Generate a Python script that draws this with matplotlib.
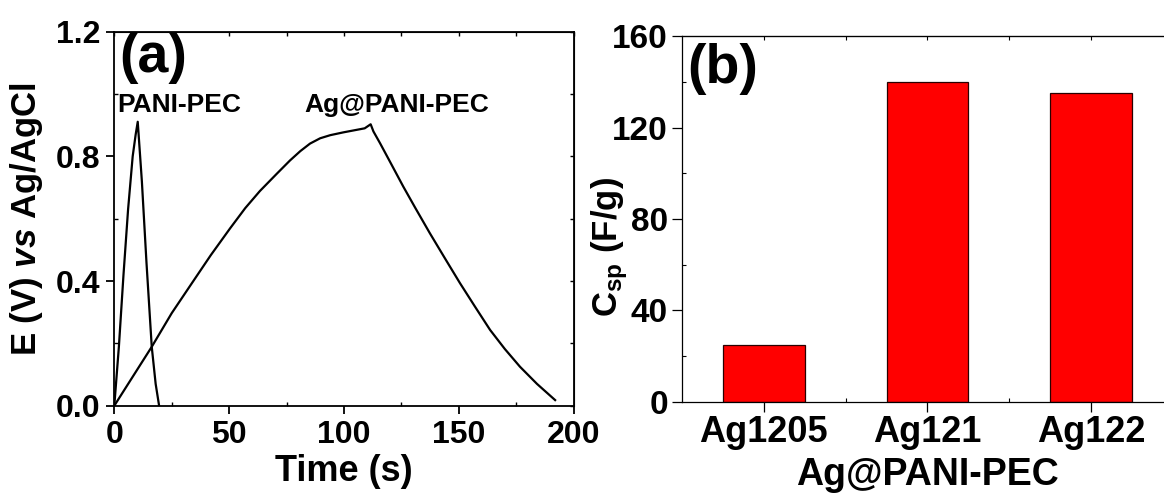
import numpy as np
import matplotlib
matplotlib.use('Agg')
import matplotlib.pyplot as plt
from matplotlib.ticker import MultipleLocator, FixedLocator

plt.rcParams['font.family'] = ['Liberation Sans', 'DejaVu Sans']
plt.rcParams['font.weight'] = 'bold'
plt.rcParams['axes.labelweight'] = 'bold'
plt.rcParams['mathtext.fontset'] = 'custom'
plt.rcParams['mathtext.rm'] = 'Liberation Sans:bold'
plt.rcParams['mathtext.bf'] = 'Liberation Sans:bold'
plt.rcParams['mathtext.it'] = 'Liberation Sans:bold:italic'

# (a) charge/discharge curves
t_pani = [0, 2, 4, 6, 8, 9.3, 10.2, 12, 14, 16.3, 18, 19.5]
e_pani = [0, 0.19, 0.42, 0.63, 0.80, 0.87, 0.911, 0.72, 0.46, 0.189, 0.07, 0.0]

t_ag = [0, 5, 10, 16.3, 25, 34.4, 42, 50.4, 57, 63.4, 70.7, 76.5, 81, 85.2, 89.6,
        94, 99.7, 104, 109, 111.6, 112.8, 115.7, 120, 125.8, 131, 137.4, 144,
        150.5, 157, 163.6, 170, 176.6, 184, 191.9]
e_ag = [0, 0.058, 0.116, 0.189, 0.297, 0.400, 0.483, 0.569, 0.634, 0.689, 0.744,
        0.787, 0.817, 0.841, 0.858, 0.868, 0.877, 0.883, 0.89, 0.903, 0.88, 0.842,
        0.783, 0.703, 0.635, 0.553, 0.472, 0.393, 0.318, 0.243, 0.182, 0.125,
        0.070, 0.018]

# (b) specific capacitance
samples = ['Ag1205', 'Ag121', 'Ag122']
csp = [25, 140, 135]

fig = plt.figure(figsize=(11.64, 5), dpi=100)

# ---- panel a
ax1 = fig.add_axes([0.0982, 0.1886, 0.3947, 0.748])
ax1.plot(t_pani, e_pani, color='k', lw=1.6, solid_joinstyle='round')
ax1.plot(t_ag, e_ag, color='k', lw=1.6, solid_joinstyle='round')
ax1.set_xlim(0, 200)
ax1.set_ylim(0, 1.2)
ax1.xaxis.set_major_locator(MultipleLocator(50))
ax1.xaxis.set_minor_locator(MultipleLocator(25))
ax1.yaxis.set_major_locator(FixedLocator([0, 0.4, 0.8, 1.2]))
ax1.yaxis.set_minor_locator(MultipleLocator(0.2))
ax1.yaxis.set_major_formatter(plt.FuncFormatter(lambda v, p: '%.1f' % v))
ax1.tick_params(which='major', direction='out', length=6, width=1.3, labelsize=23, pad=4)
ax1.tick_params(which='minor', direction='in', length=3, width=1.0)
for s in ax1.spines.values():
    s.set_linewidth(1.3)
ax1.set_xlabel('Time (s)', fontsize=26, labelpad=3)
ax1.set_ylabel(r'E (V) $\mathit{vs}$ Ag/AgCl', fontsize=25, labelpad=8)

top1 = ax1.secondary_xaxis('top')
top1.xaxis.set_major_locator(MultipleLocator(25))
top1.tick_params(direction='in', length=3, width=1.0, labeltop=False)
right1 = ax1.secondary_yaxis('right')
right1.yaxis.set_major_locator(MultipleLocator(0.2))
right1.tick_params(direction='in', length=3, width=1.0, labelright=False)

ax1.text(2.0, 1.2, '(a)', fontsize=40, fontweight='bold', va='top', ha='left')
ax1.text(28.2, 0.943, 'PANI-PEC', fontsize=19, fontweight='bold', ha='center', va='baseline')
ax1.text(122.9, 0.943, 'Ag@PANI-PEC', fontsize=19, fontweight='bold', ha='center', va='baseline')

# ---- panel b
ax2 = fig.add_axes([0.5859, 0.1968, 0.4218, 0.7306])
xpos = np.arange(1, len(samples) + 1)
ax2.bar(xpos, csp, width=0.5, color='#ff0000', edgecolor='#2a0000', linewidth=0.9)
ax2.set_xlim(0.5, 3.5)
ax2.set_ylim(0, 160)
ax2.set_xticks(xpos)
ax2.set_xticklabels(samples)
ax2.xaxis.set_minor_locator(FixedLocator([1.5, 2.5]))
ax2.yaxis.set_major_locator(MultipleLocator(40))
ax2.yaxis.set_minor_locator(MultipleLocator(20))
ax2.tick_params(which='major', direction='out', length=7, width=0.9, pad=3)
ax2.tick_params(axis='y', which='major', labelsize=24)
ax2.tick_params(axis='x', which='major', labelsize=26)
ax2.tick_params(which='minor', direction='in', length=3, width=0.8)
for s in ax2.spines.values():
    s.set_linewidth(0.9)
ax2.set_xlabel('Ag@PANI-PEC', fontsize=27, labelpad=5)
ax2.set_ylabel(r'C$_{\mathrm{sp}}$ (F/g)', fontsize=25)
ax2.yaxis.set_label_coords(-0.106, 0.423)

top2 = ax2.secondary_xaxis('top')
top2.xaxis.set_major_locator(FixedLocator([1, 1.5, 2, 2.5, 3]))
top2.tick_params(direction='in', length=3, width=0.8, labeltop=False)

ax2.text(0.53, 157, '(b)', fontsize=40, fontweight='bold', va='top', ha='left')

fig.savefig('out.png', dpi=100)
